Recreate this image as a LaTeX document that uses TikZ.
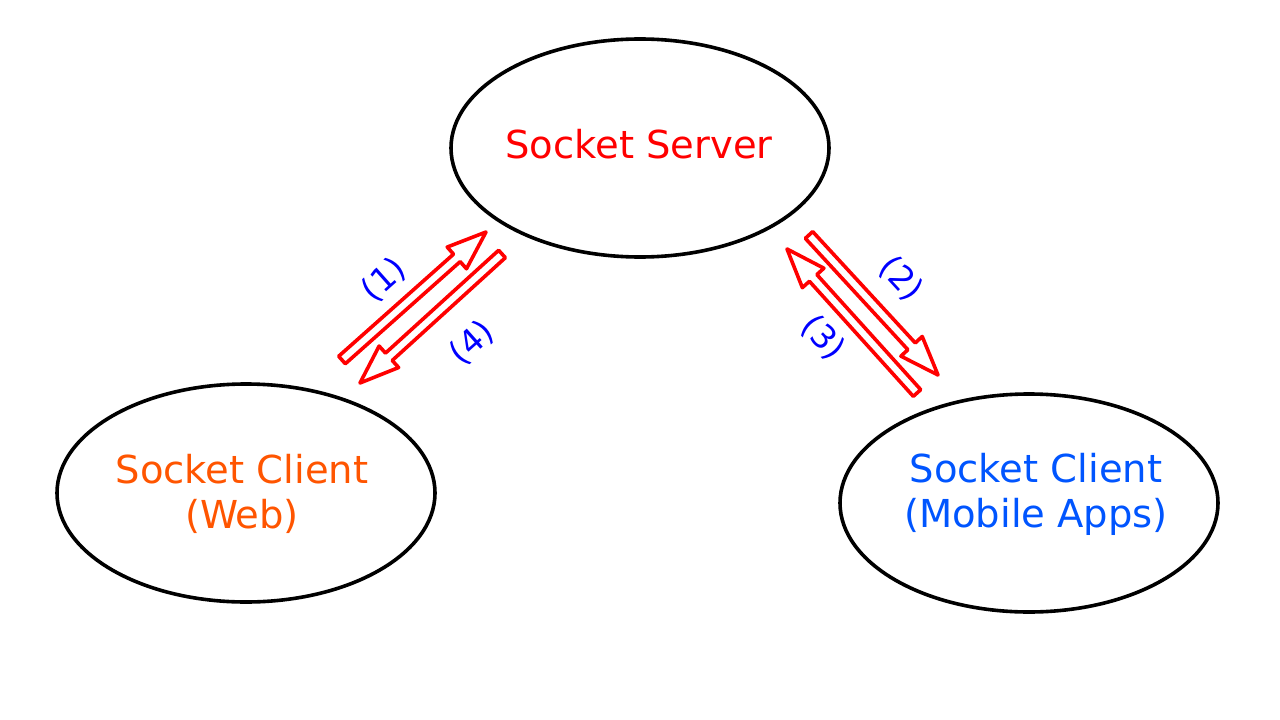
\documentclass[tikz,border=0pt]{standalone}
\usepackage{fontspec}
\setmainfont{DejaVu Sans}
\usetikzlibrary{shapes.geometric,calc}
\definecolor{srvred}{HTML}{FF0000}
\definecolor{weborange}{HTML}{FF5500}
\definecolor{mobblue}{HTML}{0055FF}
\definecolor{lblblue}{HTML}{0000FF}
\tikzset{
  endpoint/.style={ellipse,draw=black,line width=3.6pt,minimum width=378pt,minimum height=218pt,inner sep=0pt},
  maintext/.style={font=\fontsize{38.5}{45}\selectfont,align=center,inner sep=0pt},
  barrow/.style={draw=srvred,line width=3.6pt,line join=round},
  steplabel/.style={text=lblblue,font=\fontsize{33}{36}\selectfont,inner sep=0pt}
}
\newcommand\blockarrow[2]{%
  \draw[barrow] let \p1=($(#2)-(#1)$), \n1={atan2(\y1,\x1)}, \n2={veclen(\x1,\y1)} in
    [shift={(#1)}, rotate=\n1]
    (0,-5) -- (\n2-39,-5) -- (\n2-39,-14.5) -- (\n2,0) -- (\n2-39,14.5) -- (\n2-39,5) -- (0,5) -- cycle;}
\begin{document}
\begin{tikzpicture}[x=1pt,y=-1pt]
\useasboundingbox[fill=white] (0,0) rectangle (1280,720);
\node[endpoint] (server) at (640,148) {};
\node[endpoint] (web) at (246,493) {};
\node[endpoint] (mobile) at (1029,503) {};
\node[maintext,text=srvred,anchor=base] (servertxt) at (639,158) {Socket Server};
\node[maintext,text=weborange,anchor=base] (webtxt) at (242,528) {Socket Client\\(Web)};
\node[maintext,text=mobblue,anchor=base] (mobiletxt) at (1036,527) {Socket Client\\(Mobile Apps)};
\coordinate (a1t) at (342,360);
\coordinate (a1h) at (486,232);
\coordinate (a4t) at (502,254);
\coordinate (a4h) at (360,383);
\coordinate (a2t) at (809,235);
\coordinate (a2h) at (938,375);
\coordinate (a3t) at (917,393);
\coordinate (a3h) at (787,249);
\blockarrow{a1t}{a1h}
\blockarrow{a4t}{a4h}
\blockarrow{a2t}{a2h}
\blockarrow{a3t}{a3h}
\node[steplabel,rotate=41.6] (l1) at (384,280) {(1)};
\node[steplabel,rotate=41.6] (l4) at (472,343) {(4)};
\node[steplabel,rotate=-47.3] (l2) at (901,279) {(2)};
\node[steplabel,rotate=-47.3] (l3) at (823,338) {(3)};
\end{tikzpicture}
\end{document}
